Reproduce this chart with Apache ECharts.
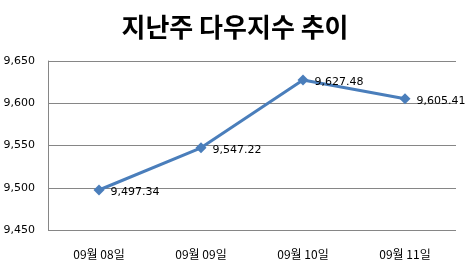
<!DOCTYPE html>
<html><head><meta charset="utf-8">
<script src="https://cdn.jsdelivr.net/npm/echarts@6/dist/echarts.min.js"></script>
<style>html,body{margin:0;padding:0;background:#fff}#c{width:470px;height:268px}</style>
</head><body><div id="c"></div>
<script>
const title = '지난주 다우지수 추이';
const categories = ['09월 08일', '09월 09일', '09월 10일', '09월 11일'];
const values = [9497.34, 9547.22, 9627.48, 9605.41];
const yTicks = [9450, 9500, 9550, 9600, 9650];

const fmt = v => v.toLocaleString('en-US', {minimumFractionDigits: 2, maximumFractionDigits: 2});
const chart = echarts.init(document.getElementById('c'), null, {renderer: 'canvas'});
chart.setOption({
  animation: false,
  backgroundColor: '#fff',
  title: {
    text: title, left: 'center', top: 9,
    textStyle: {fontFamily: 'Noto Sans CJK KR', fontWeight: 'bold', fontSize: 26, color: '#000'}
  },
  grid: {left: 48, right: 14, top: 61, bottom: 38, containLabel: false},
  xAxis: {
    type: 'category', data: categories, boundaryGap: true,
    axisLine: {show: false}, axisTick: {show: false},
    axisLabel: {margin: 18, fontSize: 12, color: '#000', fontFamily: 'Noto Sans CJK KR'}
  },
  yAxis: {
    type: 'value', min: yTicks[0], max: yTicks[yTicks.length - 1], interval: 50,
    axisLine: {show: true, lineStyle: {color: '#868686', width: 1}},
    axisTick: {show: false},
    splitLine: {lineStyle: {color: '#868686', width: 1}},
    axisLabel: {margin: 13, fontSize: 11, color: '#000', fontFamily: 'DejaVu Sans',
      formatter: v => v.toLocaleString('en-US')}
  },
  series: [{
    type: 'line', data: values,
    symbol: 'diamond', symbolSize: 11,
    lineStyle: {color: '#4a7ebb', width: 3},
    itemStyle: {color: '#4a7ebb'},
    label: {show: true, position: 'right', distance: 6, offset: [0, 2], fontSize: 11, color: '#000',
      fontFamily: 'DejaVu Sans', formatter: p => fmt(p.value)}
  }]
});
</script></body></html>
